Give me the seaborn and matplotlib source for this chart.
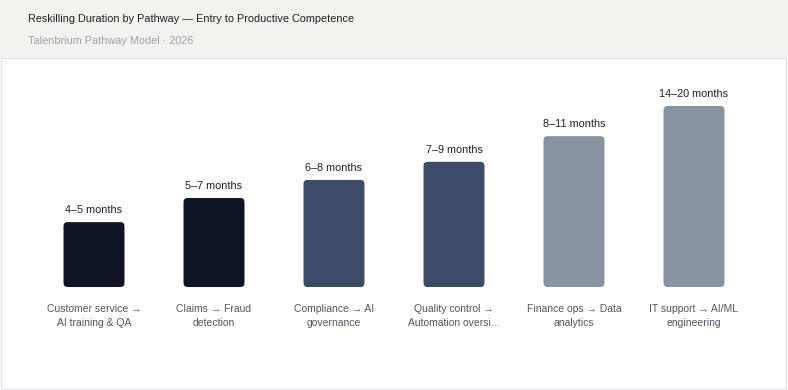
import matplotlib
matplotlib.use("Agg")
import matplotlib.pyplot as plt
from matplotlib.patches import Rectangle, FancyBboxPatch
import seaborn as sns
import pandas as pd

# ---- data ----
pathways = [
    "Customer service →\nAI training & QA",
    "Claims → Fraud\ndetection",
    "Compliance → AI\ngovernance",
    "Quality control →\nAutomation oversi...",
    "Finance ops → Data\nanalytics",
    "IT support → AI/ML\nengineering",
]
duration_labels = ["4–5 months", "5–7 months", "6–8 months", "7–9 months",
                   "8–11 months", "14–20 months"]
bar_values = [4.3, 5.9, 7.1, 8.3, 10.0, 12.0]
bar_colors = ["#0e1424", "#0e1424", "#3d4a68", "#3d4a68", "#8893a1", "#8893a1"]

title = "Reskilling Duration by Pathway — Entry to Productive Competence"
subtitle = "Talenbrium Pathway Model · 2026"

sns.set_theme(style="white")
plt.rcParams["font.family"] = ["Liberation Sans", "DejaVu Sans"]

W, H = 788, 390
fig = plt.figure(figsize=(W / 100, H / 100), dpi=100)
fig.patch.set_facecolor("white")

# header band and panel
fig.patches.append(Rectangle((0, 1 - 57 / H), 1, 57 / H, transform=fig.transFigure,
                             facecolor="#f3f2ee", edgecolor="none", zorder=-2))
fig.patches.append(Rectangle((0.5 / W, 1.5 / H), (W - 3) / W, (H - 57 - 2) / H,
                             transform=fig.transFigure, facecolor="white",
                             edgecolor="#e1e3e6", linewidth=1.0, zorder=-1))

fig.text(28 / W, 1 - 19 / H, title, fontsize=7.8, color="#1c1f26", va="center", ha="left")
fig.text(28 / W, 1 - 41 / H, subtitle, fontsize=7.8, color="#9aa1ab", va="center", ha="left")

ax_left, ax_right = 34, 754
ax_bottom = 287
ymax = 13.0
px_per_unit = 181 / 12.0
ax_h = ymax * px_per_unit
ax = fig.add_axes([ax_left / W, 1 - ax_bottom / H, (ax_right - ax_left) / W, ax_h / H])
ax.set_zorder(2)
ax.set_facecolor("none")

df = pd.DataFrame({"pathway": pathways, "value": bar_values})
sns.barplot(data=df, x="pathway", y="value", hue="pathway", palette=bar_colors,
            legend=False, width=0.508, ax=ax, saturation=1)
ax.set_ylim(0, ymax)
ax.set_xlim(-0.5, len(pathways) - 0.5)

# rounded corners
x_per_px = (len(pathways)) / (ax_right - ax_left)
y_per_px = ymax / ax_h
r_px = 4
bars = list(ax.patches)
for i, p in enumerate(bars):
    x, y = p.get_x(), p.get_y()
    w, h = p.get_width(), p.get_height()
    fc = p.get_facecolor()
    p.remove()
    fb = FancyBboxPatch((x, y), w, h,
                        boxstyle=f"round,pad=0,rounding_size={r_px * x_per_px}",
                        mutation_aspect=y_per_px / x_per_px,
                        facecolor=fc, edgecolor="none")
    ax.add_patch(fb)
    ax.annotate(duration_labels[i], (x + w / 2, h),
                xytext=(0, 5), textcoords="offset points", ha="center", va="bottom",
                fontsize=7.8, color="#1c1f26")

ax.set_xlabel("")
ax.set_ylabel("")
ax.set_yticks([])
ax.set_xticks(range(len(pathways)))
ax.set_xticklabels(pathways, fontsize=7.5, color="#4f5562", linespacing=1.6)
ax.tick_params(axis="x", length=0, pad=12)
for s in ax.spines.values():
    s.set_visible(False)

fig.savefig("out.png", dpi=100)
